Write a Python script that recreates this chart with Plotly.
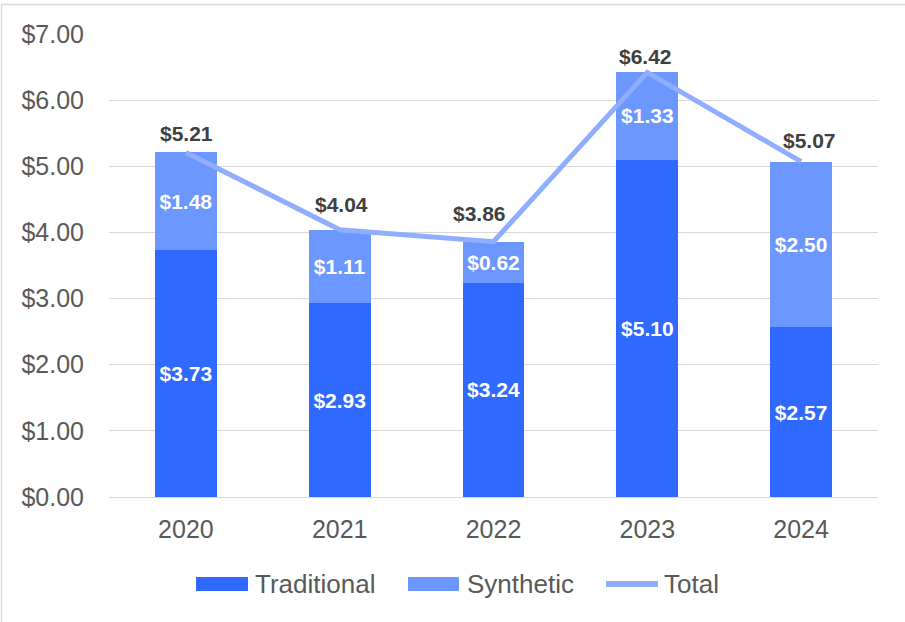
import plotly.graph_objects as go

years = ["2020", "2021", "2022", "2023", "2024"]
traditional = [3.73, 2.93, 3.24, 5.10, 2.57]
synthetic = [1.48, 1.11, 0.62, 1.33, 2.50]
total = [5.21, 4.04, 3.86, 6.42, 5.07]
y_ticks = [0, 1, 2, 3, 4, 5, 6, 7]

# per-label nudges of the total labels (pixels)
total_label_dx = [1, 2, -14, -2, 8]
total_label_dy = [19, 25, 28, 16, 21]

W, H = 905, 622
L, R, T, B = 109, 27, 34, 125
pw, ph = W - L - R, H - T - B

def px(x):
    return (x - L) / pw

def py(y):
    return (H - B - y) / ph

FONT = "Liberation Sans, Arial"
TXT = "#595959"
C_TRAD, C_SYN, C_TOT = "#2F69FF", "#6B97FF", "#8FAEFF"
lbl_font = dict(family=FONT, size=21, color="white", weight="bold")

fig = go.Figure()
fig.add_trace(go.Bar(
    x=years, y=traditional, name="Traditional",
    marker=dict(color=C_TRAD, line=dict(width=0)),
    text=[f"${v:.2f}" for v in traditional],
    textposition="inside", insidetextanchor="middle", textangle=0,
    constraintext="none", textfont=lbl_font, showlegend=False,
))
fig.add_trace(go.Bar(
    x=years, y=synthetic, name="Synthetic",
    marker=dict(color=C_SYN, line=dict(width=0)),
    text=[f"${v:.2f}" for v in synthetic],
    textposition="inside", insidetextanchor="middle", textangle=0,
    constraintext="none", textfont=lbl_font, showlegend=False,
))
fig.add_trace(go.Scatter(
    x=years, y=total, name="Total", mode="lines",
    line=dict(color=C_TOT, width=5), showlegend=False,
))

annotations = []
for i, (v, dx, dy) in enumerate(zip(total, total_label_dx, total_label_dy)):
    annotations.append(dict(
        x=i, y=v, xref="x", yref="y", text=f"${v:.2f}", showarrow=False,
        xanchor="center", yanchor="middle", xshift=dx, yshift=dy,
        font=dict(family=FONT, size=21, color="#404040", weight="bold"),
    ))

# custom legend
leg_y = 584
shapes = [
    dict(type="rect", xref="paper", yref="paper",
         x0=px(1.5), x1=px(920), y0=py(640), y1=py(4.5),
         line=dict(color="#d9d9d9", width=1.5), fillcolor="rgba(0,0,0,0)", layer="below"),
    dict(type="rect", xref="paper", yref="paper",
         x0=px(196), x1=px(248), y0=py(591), y1=py(577),
         line=dict(width=0), fillcolor=C_TRAD),
    dict(type="rect", xref="paper", yref="paper",
         x0=px(408), x1=px(459), y0=py(591), y1=py(577),
         line=dict(width=0), fillcolor=C_SYN),
    dict(type="line", xref="paper", yref="paper",
         x0=px(606), x1=px(658), y0=py(leg_y), y1=py(leg_y),
         line=dict(color=C_TOT, width=6)),
]
for name, x0 in [("Traditional", 253), ("Synthetic", 465), ("Total", 662)]:
    annotations.append(dict(
        x=px(x0), y=py(leg_y), xref="paper", yref="paper", text=name,
        showarrow=False, xanchor="left", yanchor="middle",
        font=dict(family=FONT, size=26, color=TXT),
    ))

fig.update_layout(
    width=W, height=H, autosize=False,
    margin=dict(l=L, r=R, t=T, b=B, pad=0, autoexpand=False),
    barmode="stack", bargap=0.597,
    plot_bgcolor="white", paper_bgcolor="white",
    font=dict(family=FONT, size=25, color=TXT),
    showlegend=False,
    xaxis=dict(type="category", range=[-0.5, len(years) - 0.5],
               showgrid=False, showline=True, linecolor="#d9d9d9", linewidth=1,
               ticks="", ticklabelstandoff=10, tickangle=0, automargin=False,
               tickfont=dict(size=25, color=TXT)),
    yaxis=dict(range=[0, 7], tickvals=y_ticks,
               ticktext=[f"${v:.2f}" for v in y_ticks],
               showgrid=True, gridcolor="#d9d9d9", gridwidth=1,
               zeroline=False, showline=False, ticks="", automargin=False,
               ticklabelstandoff=24, tickfont=dict(size=25, color=TXT)),
    shapes=shapes,
    annotations=annotations,
)

fig.write_html("out.html", config={"displayModeBar": False},
               post_script="document.body.style.margin='0';")
